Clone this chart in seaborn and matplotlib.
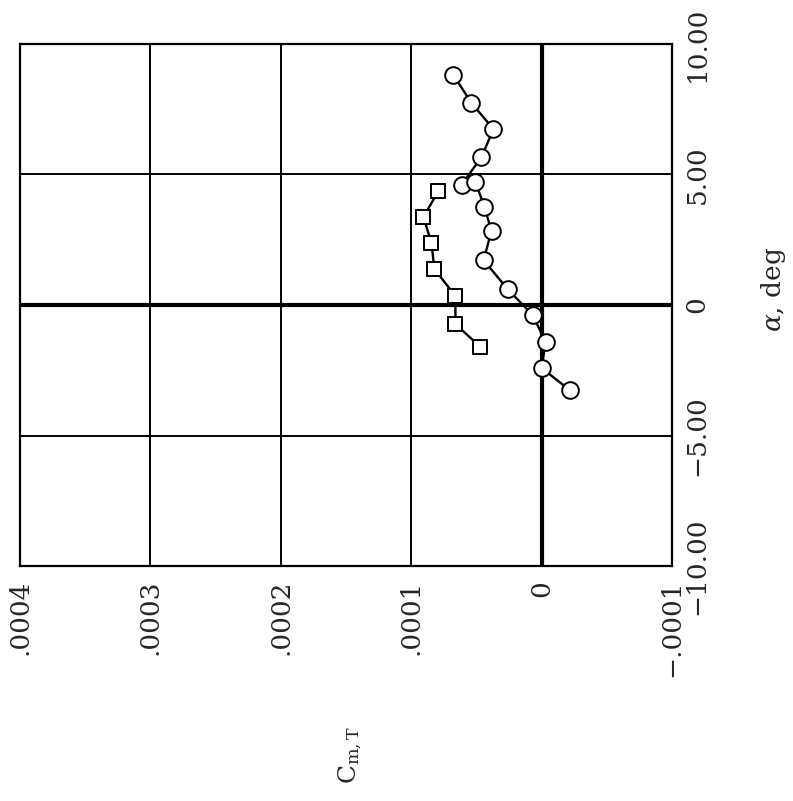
import numpy as np
import pandas as pd
import matplotlib
matplotlib.use("Agg")
import matplotlib.pyplot as plt
import seaborn as sns

# circle series (alpha in deg, Cm,T), in the order the points are joined
circ_alpha = [8.81, 7.74, 6.74, 5.67, 4.60, 4.71, 3.75, 2.84, 1.72, 0.61, -0.38, -1.42, -2.41, -3.26]
circ_cm = [0.0000676, 0.0000538, 0.0000369, 0.0000461, 0.0000614, 0.0000507, 0.0000438,
           0.0000384, 0.0000445, 0.0000261, 0.0000069, -0.0000031, 0.0000000, -0.0000215]

# square series
sq_alpha = [4.37, 3.37, 2.38, 1.38, 0.34, -0.73, -1.61]
sq_cm = [0.0000791, 0.0000906, 0.0000845, 0.0000822, 0.0000661, 0.0000661, 0.0000469]

cm_ticks = [0.0004, 0.0003, 0.0002, 0.0001, 0.0, -0.0001]
cm_labels = [".0004", ".0003", ".0002", ".0001", "0", "\u2212.0001"]
alpha_ticks = [-10, -5, 0, 5, 10]
alpha_labels = ["\u221210.00", "\u22125.00", "0", "5.00", "10.00"]

df_c = pd.DataFrame({"cm": circ_cm, "alpha": circ_alpha})
df_s = pd.DataFrame({"cm": sq_cm, "alpha": sq_alpha})

sns.set_theme(style="white")
plt.rcParams['font.family'] = ['DejaVu Serif']
plt.rcParams['mathtext.fontset'] = 'dejavuserif'

fig = plt.figure(figsize=(7.93, 8.01), dpi=100)
ax = fig.add_axes([20 / 793, (801 - 566) / 801, 652 / 793, 522 / 801])

# chart is drawn turned on its side: Cm,T runs right-to-left, alpha runs upward
sns.lineplot(data=df_c, x="cm", y="alpha", sort=False, estimator=None, ax=ax,
             color="black", lw=1.7, marker="o", markersize=12,
             markerfacecolor="white", markeredgecolor="black", markeredgewidth=1.4)
sns.lineplot(data=df_s, x="cm", y="alpha", sort=False, estimator=None, ax=ax,
             color="black", lw=1.7, marker="s", markersize=10.5,
             markerfacecolor="white", markeredgecolor="black", markeredgewidth=1.4)

ax.set_xlim(0.0004, -0.0001)
ax.set_ylim(-10, 10)
ax.set_xticks(cm_ticks)
ax.set_xticklabels(cm_labels, rotation=90, fontsize=19)
ax.set_yticks(alpha_ticks)
ax.set_yticklabels(alpha_labels, rotation=90, fontsize=19, va="center")
ax.yaxis.tick_right()
ax.tick_params(axis="x", length=0, pad=10)
ax.tick_params(axis="y", length=0, pad=9)
ax.set_xlabel("")
ax.set_ylabel("")

ax.grid(True, color="black", lw=1.4)
ax.axvline(0, color="black", lw=3, zorder=1)
ax.axhline(0, color="black", lw=3, zorder=1)
for s in ax.spines.values():
    s.set_color("black")
    s.set_linewidth(1.6)

fig.text(350 / 793, 1 - 755 / 801, "C$_{\\mathregular{m,T}}$", rotation=90,
         fontsize=18, ha="center", va="center")
fig.text(773 / 793, 1 - 289 / 801, "$\\alpha$, deg", rotation=90,
         fontsize=19, ha="center", va="center")

fig.savefig("out.png", dpi=100, facecolor="white")
